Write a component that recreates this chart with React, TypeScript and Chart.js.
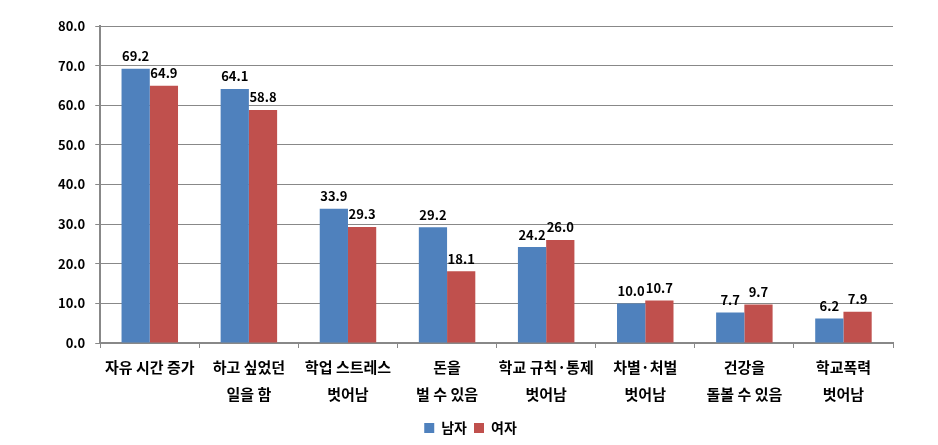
import React, { useEffect, useRef } from "react";
import { Chart, registerables } from "chart.js";

Chart.register(...registerables);

const categories: string[][] = [
  ["자유 시간 증가"],
  ["하고 싶었던", "일을 함"],
  ["학업 스트레스", "벗어남"],
  ["돈을", "벌 수 있음"],
  ["학교 규칙·통제", "벗어남"],
  ["차별·처벌", "벗어남"],
  ["건강을", "돌볼 수 있음"],
  ["학교폭력", "벗어남"],
];
const male = [69.2, 64.1, 33.9, 29.2, 24.2, 10.0, 7.7, 6.2];
const female = [64.9, 58.8, 29.3, 18.1, 26.0, 10.7, 9.7, 7.9];
const seriesNames = ["남자", "여자"];

const FONT = "'Noto Sans CJK KR', 'Noto Sans', sans-serif";

const labelPlugin = {
  id: "valueLabels",
  afterDatasetsDraw(chart: any) {
    const ctx = chart.ctx;
    ctx.save();
    ctx.font = `bold 13px ${FONT}`;
    ctx.fillStyle = "#000";
    ctx.textAlign = "center";
    ctx.textBaseline = "bottom";
    chart.data.datasets.forEach((ds: any, i: number) => {
      const meta = chart.getDatasetMeta(i);
      meta.data.forEach((bar: any, j: number) => {
        ctx.fillText(ds.data[j].toFixed(1), bar.x, bar.y - 6);
      });
    });
    ctx.restore();
  },
};

export default function App() {
  const ref = useRef<HTMLCanvasElement>(null);
  useEffect(() => {
    document.body.style.margin = "0";
    const chart = new Chart(ref.current!, {
      type: "bar",
      data: {
        labels: categories,
        datasets: [
          { label: seriesNames[0], data: male, backgroundColor: "#4F81BD" },
          { label: seriesNames[1], data: female, backgroundColor: "#C0504D" },
        ],
      },
      options: {
        animation: false,
        responsive: false,
        layout: { padding: { top: 26, right: 45, bottom: 0, left: 48 } },
        datasets: { bar: { barPercentage: 1, categoryPercentage: 0.57 } },
        plugins: {
          legend: {
            position: "bottom",
            labels: {
              boxWidth: 10,
              boxHeight: 10,
              padding: 7,
              color: "#000",
              font: { family: FONT, size: 14, weight: "bold" },
            },
          },
          tooltip: { enabled: false },
        },
        scales: {
          x: {
            grid: {
              drawOnChartArea: false,
              drawTicks: true,
              tickLength: 5,
              color: "#888",
              offset: true,
            },
            border: { color: "#888", width: 2 },
            ticks: {
              color: "#000",
              padding: 6,
              maxRotation: 0,
              autoSkip: false,
              font: { family: FONT, size: 15, weight: "bold", lineHeight: 1.8 },
            },
          },
          y: {
            min: 0,
            max: 80,
            ticks: {
              stepSize: 10,
              color: "#000",
              padding: 10,
              font: { family: FONT, size: 13, weight: "bold" },
              callback: (v: any) => Number(v).toFixed(1),
            },
            grid: { color: "#888", tickLength: 5, lineWidth: 1 },
            border: { color: "#888", width: 2 },
          },
        },
      },
      plugins: [labelPlugin],
    });
    return () => chart.destroy();
  }, []);
  return (
    <div style={{ width: 938, height: 445 }}>
      <canvas ref={ref} width={938} height={445} />
    </div>
  );
}
